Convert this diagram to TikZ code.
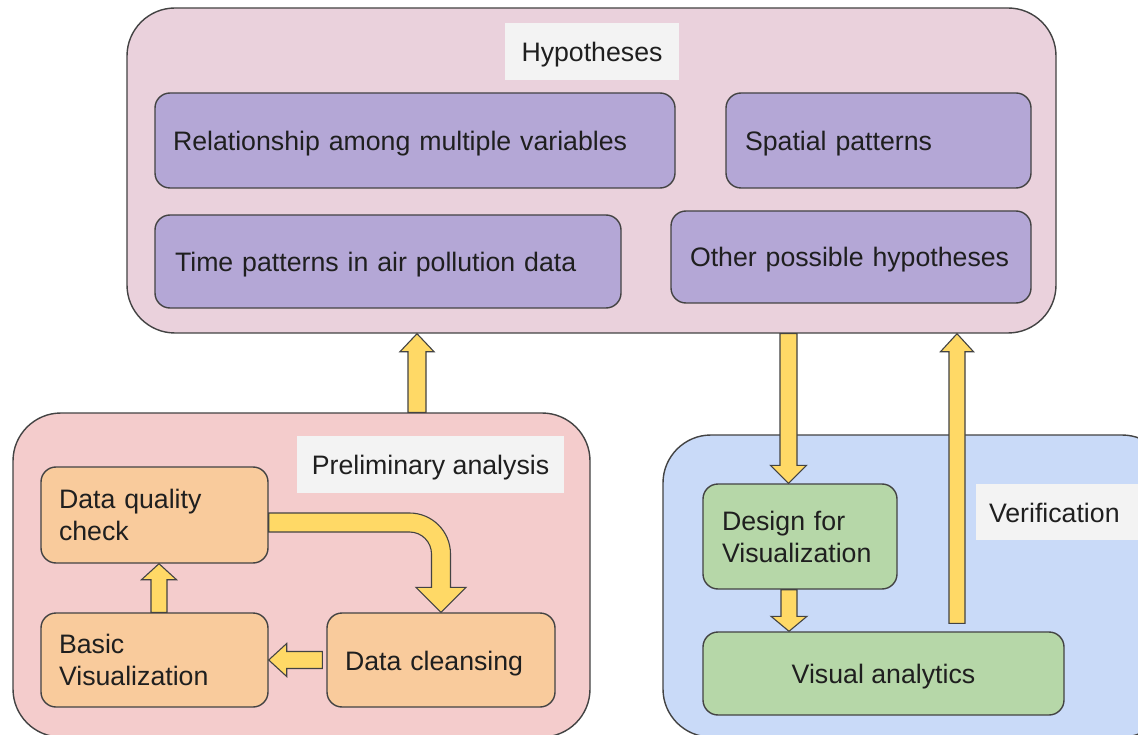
\documentclass[tikz,border=0pt]{standalone}
\usepackage{fontspec}
\setmainfont{Liberation Sans}
\usetikzlibrary{calc}

\definecolor{hypbg}{HTML}{EAD1DC}
\definecolor{purplebox}{HTML}{B4A7D6}
\definecolor{prebg}{HTML}{F4CCCC}
\definecolor{orangebox}{HTML}{F9CB9C}
\definecolor{verbg}{HTML}{C9DAF8}
\definecolor{greenbox}{HTML}{B6D7A8}
\definecolor{arrowyellow}{HTML}{FFD966}
\definecolor{labelbg}{HTML}{F3F3F3}
\definecolor{edge}{HTML}{434343}
\definecolor{ink}{HTML}{1F1F1F}

\tikzset{
  txt/.style={font=\fontsize{26.7pt}{32pt}\selectfont, text=ink},
  oneline/.style={text height=20pt, text depth=0pt},
  group/.style={draw=edge, line width=1.4pt, rounded corners=48pt, inner sep=0pt},
  tag/.style={txt, oneline, fill=labelbg, inner sep=0pt},
  item/.style={txt, draw=edge, line width=1.4pt, rounded corners=15pt,
               inner ysep=0pt, align=left},
  fat arrow/.style={fill=arrowyellow, draw=edge, line width=1.1pt, line join=miter},
}

% straight block arrow: #1 tail, #2 tip, #3 half shaft width,
% #4 half head width, #5 head length
\newcommand\blockarrow[5]{%
  \coordinate (ba-head) at ($(#2)!#5!(#1)$);
  \filldraw[fat arrow]
    ($(#1)!#3!90:(#2)$) -- ($(ba-head)!#3!90:(#2)$) -- ($(ba-head)!#4!90:(#2)$)
    -- (#2)
    -- ($(ba-head)!#4!-90:(#2)$) -- ($(ba-head)!#3!-90:(#2)$) -- ($(#1)!#3!-90:(#2)$)
    -- cycle;
}

\begin{document}
\begin{tikzpicture}[x=1pt, y=-1pt]
  \useasboundingbox (0,0) rectangle (1138,735);
  \fill[white] (0,0) rectangle (1138,735);
  \clip (0,0) rectangle (1138,735);

  % ---- Hypotheses ----
  \node[group, fill=hypbg, minimum width=929pt, minimum height=325pt] (hyp) at (591.5,170.5) {};
  \node[tag, minimum width=174pt, minimum height=57pt] (hyplabel) at (592,51.5) {Hypotheses};
  \node[item, oneline, fill=purplebox, minimum width=520pt, minimum height=95pt,
        inner xsep=18pt, text width=484pt] (rel) at (415,140.5)
        {Relationship among multiple variables};
  \node[item, oneline, fill=purplebox, minimum width=305pt, minimum height=95pt,
        inner xsep=19pt, text width=267pt] (spat) at (878.5,140.5)
        {Spatial patterns};
  \node[item, oneline, fill=purplebox, minimum width=466pt, minimum height=93pt,
        inner xsep=20pt, text width=426pt] (time) at (388,261.5)
        {Time patterns in air pollution data};
  \node[item, oneline, fill=purplebox, minimum width=360pt, minimum height=92pt,
        inner xsep=19pt, text width=322pt] (other) at (851,257)
        {Other possible hypotheses};

  % ---- Preliminary analysis ----
  \node[group, fill=prebg, minimum width=577pt, minimum height=324pt] (pre) at (301.5,575) {};
  \node[tag, minimum width=267pt, minimum height=57pt] (prelabel) at (430.5,464.5) {Preliminary analysis};
  \node[item, fill=orangebox, minimum width=227pt, minimum height=96pt,
        inner xsep=18pt, text width=191pt] (dq) at (154.5,515)
        {Data quality\\check};
  \node[item, fill=orangebox, minimum width=227pt, minimum height=94pt,
        inner xsep=18pt, text width=191pt] (basic) at (154.5,660)
        {Basic\\Visualization};
  \node[item, oneline, fill=orangebox, minimum width=228pt, minimum height=94pt,
        inner xsep=18pt, text width=192pt] (clean) at (441,660)
        {Data cleansing};

  % ---- Verification ----
  \node[group, fill=verbg, minimum width=507pt, minimum height=302pt] (ver) at (916.5,586) {};
  \node[tag, minimum width=174pt, minimum height=56pt, inner xsep=13pt,
        text width=148pt, align=left] (verlabel) at (1063,512) {Verification};
  \node[item, fill=greenbox, minimum width=194pt, minimum height=105pt,
        inner xsep=19pt, text width=156pt] (dv) at (800,536.5)
        {Design for\\Visualization};
  \node[item, oneline, fill=greenbox, minimum width=361pt, minimum height=83pt,
        inner xsep=0pt, align=center] (va) at (883.5,673.5)
        {Visual analytics};

  % ---- arrows ----
  \blockarrow{$(pre.north)+(115.5,0)$}{$(hyp.south)+(-174.5,0)$}{9pt}{17pt}{18pt}
  \blockarrow{$(hyp.south)+(197,0)$}{$(dv.north)+(-11.5,0)$}{8.5pt}{18pt}{18pt}
  \blockarrow{$(dv.south)+(-11,0)$}{$(va.north)+(-94.5,0)$}{8pt}{18pt}{15pt}
  \blockarrow{$(va.north)+(73.5,-8)$}{$(hyp.south)+(365.5,0)$}{8pt}{16.5pt}{18pt}
  \blockarrow{$(basic.north)+(4.5,0)$}{$(dq.south)+(4.5,0)$}{8pt}{17.5pt}{16pt}
  \blockarrow{$(clean.west)+(-4,0)$}{basic.east}{8.5pt}{16.5pt}{18pt}

  % bent arrow from the quality check down into data cleansing
  \filldraw[fat arrow]
    let \p1=($(dq.east)+(0,7.5)$), \p2=(clean.north) in
    (\x1, \y1+9.5pt) -- (\x2-31.5pt, \y1+9.5pt)
    arc[start angle=90, end angle=0, radius=41pt]
    -- (\x2+9.5pt, \y2+25pt) -- (\x2+25pt, \y2+25pt) -- (\x2, \y2)
    -- (\x2-25pt, \y2+25pt) -- (\x2-9.5pt, \y2+25pt)
    -- (\x2-9.5pt, \y1-31.5pt)
    arc[start angle=0, end angle=90, radius=22pt]
    -- (\x1, \y1-9.5pt) -- cycle;
\end{tikzpicture}
\end{document}
